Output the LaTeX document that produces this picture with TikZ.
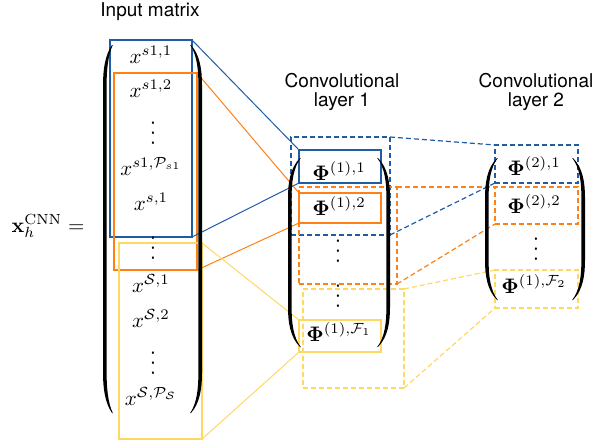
\documentclass[tikz,border=0pt]{standalone}
\usepackage[no-math]{fontspec}
\newfontfamily\hel{TeX Gyre Heros}
\usepackage{amsmath}
\definecolor{cblue}{RGB}{31,92,166}
\definecolor{corange}{RGB}{255,128,20}
\definecolor{cyellow}{RGB}{255,216,100}
\newcommand\mth[1]{\scalebox{2.1}{$#1$}}
\newcommand\mvd{\scalebox{2.1}[2.5]{$\vdots$}}
% left paren: #1 tip x, #2 outer x, #3 top y, #4 bottom y
\newcommand\lpar[4]{\fill (#1,#3) .. controls ({#2+2},{#3+10}) and (#2,{#3+25}) .. (#2,{#3+40}) -- (#2,{#4-40}) .. controls (#2,{#4-25}) and ({#2+2},{#4-10}) .. (#1,#4) -- ({#1+0.8},#4) .. controls ({#2+5},{#4-10}) and ({#2+3.6},{#4-25}) .. ({#2+3.6},{#4-40}) -- ({#2+3.6},{#3+40}) .. controls ({#2+3.6},{#3+25}) and ({#2+5},{#3+10}) .. ({#1+0.8},#3) -- cycle;}
\newcommand\rpar[4]{\fill (#1,#3) .. controls ({#2-2},{#3+10}) and (#2,{#3+25}) .. (#2,{#3+40}) -- (#2,{#4-40}) .. controls (#2,{#4-25}) and ({#2-2},{#4-10}) .. (#1,#4) -- ({#1-0.8},#4) .. controls ({#2-5},{#4-10}) and ({#2-3.6},{#4-25}) .. ({#2-3.6},{#4-40}) -- ({#2-3.6},{#3+40}) .. controls ({#2-3.6},{#3+25}) and ({#2-5},{#3+10}) .. ({#1-0.8},#3) -- cycle;}
\begin{document}
\begin{tikzpicture}[x=1pt,y=-1pt,
  box/.style={draw, rectangle, inner sep=0pt, outer sep=0pt, anchor=north west, line width=1.2pt},
  dbox/.style={box, dash pattern=on 5pt off 3pt},
  conn/.style={line width=1pt},
  dconn/.style={conn, line width=1.2pt, dash pattern=on 5pt off 3pt},
  ttl/.style={font=\hel\fontsize{19}{22}\selectfont, anchor=base, inner sep=0pt},
  ent/.style={anchor=base, inner sep=0pt}]
\useasboundingbox (0,0) rectangle (596,445);

% titles
\node[ttl] (t0) at (150,16) {Input matrix};
\node[ttl] (t1a) at (342,87) {Convolutional};
\node[ttl] (t1b) at (342,106) {layer 1};
\node[ttl] (t2a) at (536,87) {Convolutional};
\node[ttl] (t2b) at (536,106) {layer 2};

% lhs
\node[ent] (lhs) at (48,232) {\mth{\mathbf{x}_h^{\mathrm{CNN}} =}};

% input matrix rectangles
\node[box, cblue, minimum width=82pt, minimum height=197pt] (inb) at (110,40) {};
\node[box, corange, minimum width=83pt, minimum height=197pt] (ino) at (114,73) {};
\node[box, cyellow, minimum width=83pt, minimum height=196pt] (iny) at (119,243) {};

% layer 1 dashed rectangles
\node[dbox, cblue, minimum width=99pt, minimum height=98pt] (l1bd) at (291,137) {};
\node[dbox, corange, minimum width=98pt, minimum height=97pt] (l1od) at (299,187) {};
\node[dbox, cyellow, minimum width=101pt, minimum height=99pt] (l1yd) at (303,289) {};

% layer 1 solid rectangles
\node[box, cblue, minimum width=82pt, minimum height=33pt] (l1b) at (299,150) {};
\node[box, corange, minimum width=82pt, minimum height=30pt] (l1o) at (299,193) {};
\node[box, cyellow, minimum width=82pt, minimum height=32pt] (l1y) at (299,320) {};

% layer 2 dashed rectangles
\node[dbox, cblue, minimum width=83pt, minimum height=38pt] (l2b) at (495,145) {};
\node[dbox, corange, minimum width=83pt, minimum height=37pt] (l2o) at (495,187) {};
\node[dbox, cyellow, minimum width=83pt, minimum height=38pt] (l2y) at (495,270) {};

% solid connectors
\draw[conn, cblue] (inb.north east) -- (l1b.north west);
\draw[conn, cblue] (inb.south east) -- (l1b.south west);
\draw[conn, corange] (ino.north east) -- (l1o.north west);
\draw[conn, corange] (ino.south east) -- (l1o.south west);
\draw[conn, cyellow] (iny.north east) -- (l1y.north west);
\draw[conn, cyellow] (iny.south east) -- (l1y.south west);

% dashed connectors
\draw[dconn, cblue] (l1bd.north east) -- (l2b.north west);
\draw[dconn, cblue] (l1bd.south east) -- (l2b.south west);
\draw[dconn, corange] (l1od.north east) -- (l2o.north west);
\draw[dconn, corange] (l1od.south east) -- (l2o.south west);
\draw[dconn, cyellow] (l1yd.north east) -- (l2y.north west);
\draw[dconn, cyellow] (l1yd.south east) -- (l2y.south west);

% parentheses
\lpar{112}{103}{45}{413}
\rpar{191}{202}{45}{413}
\lpar{300}{288}{158}{347}
\rpar{378}{390}{158}{347}
\lpar{497}{485}{158}{300}
\rpar{573}{585}{158}{300}

% input entries
\node[ent] (x1) at (151,63) {\mth{x^{s1,1}}};
\node[ent] (x2) at (151,97) {\mth{x^{s1,2}}};
\node[ent] (xd1) at (153,144) {\mvd};
\node[ent] (x3) at (151,175) {\mth{x^{s1,\mathcal{P}_{s1}}}};
\node[ent] (x4) at (151,210) {\mth{x^{s,1}}};
\node[ent] (xd2) at (153,259) {\mvd};
\node[ent] (x5) at (151,292) {\mth{x^{\mathcal{S},1}}};
\node[ent] (x6) at (151,327) {\mth{x^{\mathcal{S},2}}};
\node[ent] (xd3) at (153,374) {\mvd};
\node[ent] (x7) at (151,405) {\mth{x^{\mathcal{S},\mathcal{P}_{\mathcal{S}}}}};

% layer 1 entries
\node[ent] (p1) at (339,180) {\mth{\mathbf{\Phi}^{(1),1}}};
\node[ent] (p2) at (339,215) {\mth{\mathbf{\Phi}^{(1),2}}};
\node[ent] (pd1) at (338,262) {\mvd};
\node[ent] (pd2) at (338,307) {\mvd};
\node[ent] (p3) at (339,341) {\mth{\mathbf{\Phi}^{(1),\mathcal{F}_1}}};

% layer 2 entries
\node[ent] (q1) at (534,175) {\mth{\mathbf{\Phi}^{(2),1}}};
\node[ent] (q2) at (534,213) {\mth{\mathbf{\Phi}^{(2),2}}};
\node[ent] (qd1) at (536,260) {\mvd};
\node[ent] (q3) at (534,293) {\mth{\mathbf{\Phi}^{(1),\mathcal{F}_2}}};
\end{tikzpicture}
\end{document}
